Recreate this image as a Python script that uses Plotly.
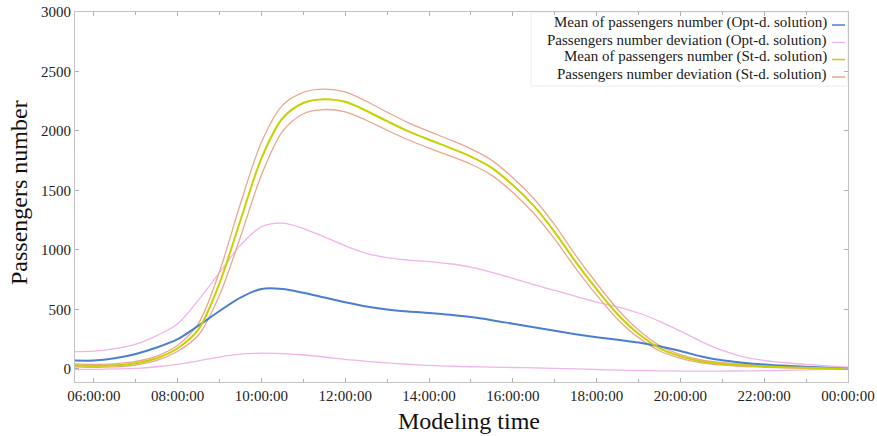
import plotly.graph_objects as go

# ---- data (hours of the modelling day) ----
hours = [5.55, 6, 6.5, 7, 7.5, 8, 8.5, 9, 9.5, 10, 10.5, 11, 11.5, 12, 12.5, 13, 13.5, 14, 14.5,
         15, 15.5, 16, 16.5, 17, 17.5, 18, 18.5, 19, 19.5, 20, 20.5, 21, 21.5, 22, 22.5, 23, 23.5, 24]

opt_mean = [70, 70, 90, 126, 180, 250, 365, 487, 600, 672, 672, 640, 600, 560, 525, 500, 483, 470, 455,
            436, 410, 380, 350, 320, 292, 267, 245, 222, 190, 150, 105, 72, 52, 37, 26, 18, 10, 2]

opt_dev_upper = [146, 150, 170, 208, 280, 380, 580, 810, 1040, 1195, 1225, 1180, 1110, 1035, 972, 935, 915, 902, 884,
                 856, 812, 762, 708, 660, 610, 562, 522, 470, 400, 318, 230, 155, 102, 72, 52, 38, 25, 14]

opt_dev_lower = [-5, -4, 0, 5, 18, 39, 68, 100, 124, 132, 128, 117, 100, 80, 64, 50, 39, 29, 23,
                 18, 15, 12, 8, 4, 0, -5, -10, -14, -16, -18, -18, -18, -17, -15, -12, -8, -4, 0]

st_mean = [30, 25, 30, 48, 90, 174, 335, 720, 1250, 1770, 2105, 2235, 2266, 2245, 2170, 2082, 1998, 1926, 1858,
           1785, 1690, 1545, 1370, 1150, 900, 670, 460, 295, 175, 105, 63, 42, 30, 22, 15, 10, 6, 2]

st_dev_upper = [42, 37, 43, 63, 108, 199, 385, 820, 1390, 1905, 2215, 2325, 2352, 2329, 2250, 2158, 2070, 1996, 1926,
                1850, 1753, 1607, 1432, 1210, 955, 720, 502, 327, 197, 121, 75, 52, 39, 30, 22, 16, 11, 6]

st_dev_lower = [18, 13, 17, 33, 72, 149, 285, 620, 1110, 1630, 1995, 2145, 2180, 2161, 2090, 2006, 1926, 1856, 1790,
                1720, 1627, 1483, 1308, 1090, 845, 620, 418, 263, 153, 89, 51, 32, 21, 14, 8, 4, 1, -2]

tick_hours = [6, 8, 10, 12, 14, 16, 18, 20, 22, 24]
tick_labels = ["06:00:00", "08:00:00", "10:00:00", "12:00:00", "14:00:00",
               "16:00:00", "18:00:00", "20:00:00", "22:00:00", "00:00:00"]
y_ticks = [0, 500, 1000, 1500, 2000, 2500, 3000]

legend_names = ["Mean of passengers number (Opt-d. solution)",
                "Passengers number deviation (Opt-d. solution)",
                "Mean of passengers number (St-d. solution)",
                "Passengers number deviation (St-d. solution)"]

BLUE = "#4a7fd0"
PINK = "#f0b4ea"
YELLOW = "#c6d200"
ORANGE = "#eaa78e"
FONT = "Liberation Serif"

fig = go.Figure()

def add_line(y, color, width, name):
    fig.add_trace(go.Scatter(x=hours, y=y, mode="lines", name=name, showlegend=False,
                             line=dict(color=color, width=width, shape="spline", smoothing=0.9),
                             hoverinfo="x+y"))

add_line(opt_dev_upper, PINK, 1.3, legend_names[1])
add_line(opt_dev_lower, PINK, 1.3, legend_names[1])
add_line(st_dev_upper, ORANGE, 1.3, legend_names[3])
add_line(st_dev_lower, ORANGE, 1.3, legend_names[3])
add_line(opt_mean, BLUE, 2, legend_names[0])
add_line(st_mean, YELLOW, 2, legend_names[2])

# ---- manual legend (text left of sample line, as in the reference) ----
L, R, T, B = 75, 848, 12, 382
def px(x):
    return (x - L) / (R - L)
def py(y):
    return (B - y) / (B - T)

legend_colors = [BLUE, PINK, YELLOW, ORANGE]
text_y = [22.5, 40, 57, 74.5]
line_y = [25, 42.5, 59.5, 77]
shapes = [dict(type="rect", xref="paper", yref="paper", x0=px(531), x1=px(848), y0=py(86), y1=py(12),
               line=dict(color="#ececec", width=1), fillcolor="rgba(255,255,255,0)", layer="below")]
annotations = []
for name, col, ty, ly in zip(legend_names, legend_colors, text_y, line_y):
    annotations.append(dict(xref="paper", yref="paper", x=px(829), y=py(ty), xanchor="right", yanchor="middle",
                            text=name, showarrow=False, font=dict(family=FONT, size=15, color="#1a1a1a")))
    shapes.append(dict(type="line", xref="paper", yref="paper", x0=px(832), x1=px(845), y0=py(ly), y1=py(ly),
                       line=dict(color=col, width=1.5)))

# axis titles placed as text
annotations.append(dict(xref="paper", yref="paper", x=px(469), y=py(421), xanchor="center", yanchor="middle",
                        text="Modeling time", showarrow=False, font=dict(family=FONT, size=24, color="#111")))
annotations.append(dict(xref="paper", yref="paper", x=px(19), y=py(193), xanchor="center", yanchor="middle",
                        text="Passengers number", textangle=-90, showarrow=False,
                        font=dict(family=FONT, size=24, color="#111")))

fig.update_layout(
    width=877, height=436,
    margin=dict(l=L, r=877 - R, t=T, b=436 - B),
    paper_bgcolor="white", plot_bgcolor="white",
    font=dict(family=FONT, size=15, color="#222"),
    showlegend=False,
    shapes=shapes, annotations=annotations,
    xaxis=dict(range=[5.55, 24], tickmode="array", tickvals=tick_hours, ticktext=tick_labels, automargin=False,
               showgrid=False, zeroline=False, showline=True, linecolor="#c4c4c4", linewidth=1,
               mirror="ticks", ticks="inside", ticklen=4, tickcolor="#b0b0b0",
               minor=dict(tickmode="linear", tick0=6, dtick=1, ticks="inside", ticklen=3, tickcolor="#b0b0b0"),
               tickfont=dict(family=FONT, size=15, color="#222")),
    yaxis=dict(range=[-110, 3000], tickmode="array", tickvals=y_ticks, automargin=False,
               showgrid=False, zeroline=False, showline=True, linecolor="#c4c4c4", linewidth=1,
               mirror="ticks", ticks="inside", ticklen=4, tickcolor="#b0b0b0",
               tickfont=dict(family=FONT, size=15, color="#222")),
)

fig.write_html("out.html")
